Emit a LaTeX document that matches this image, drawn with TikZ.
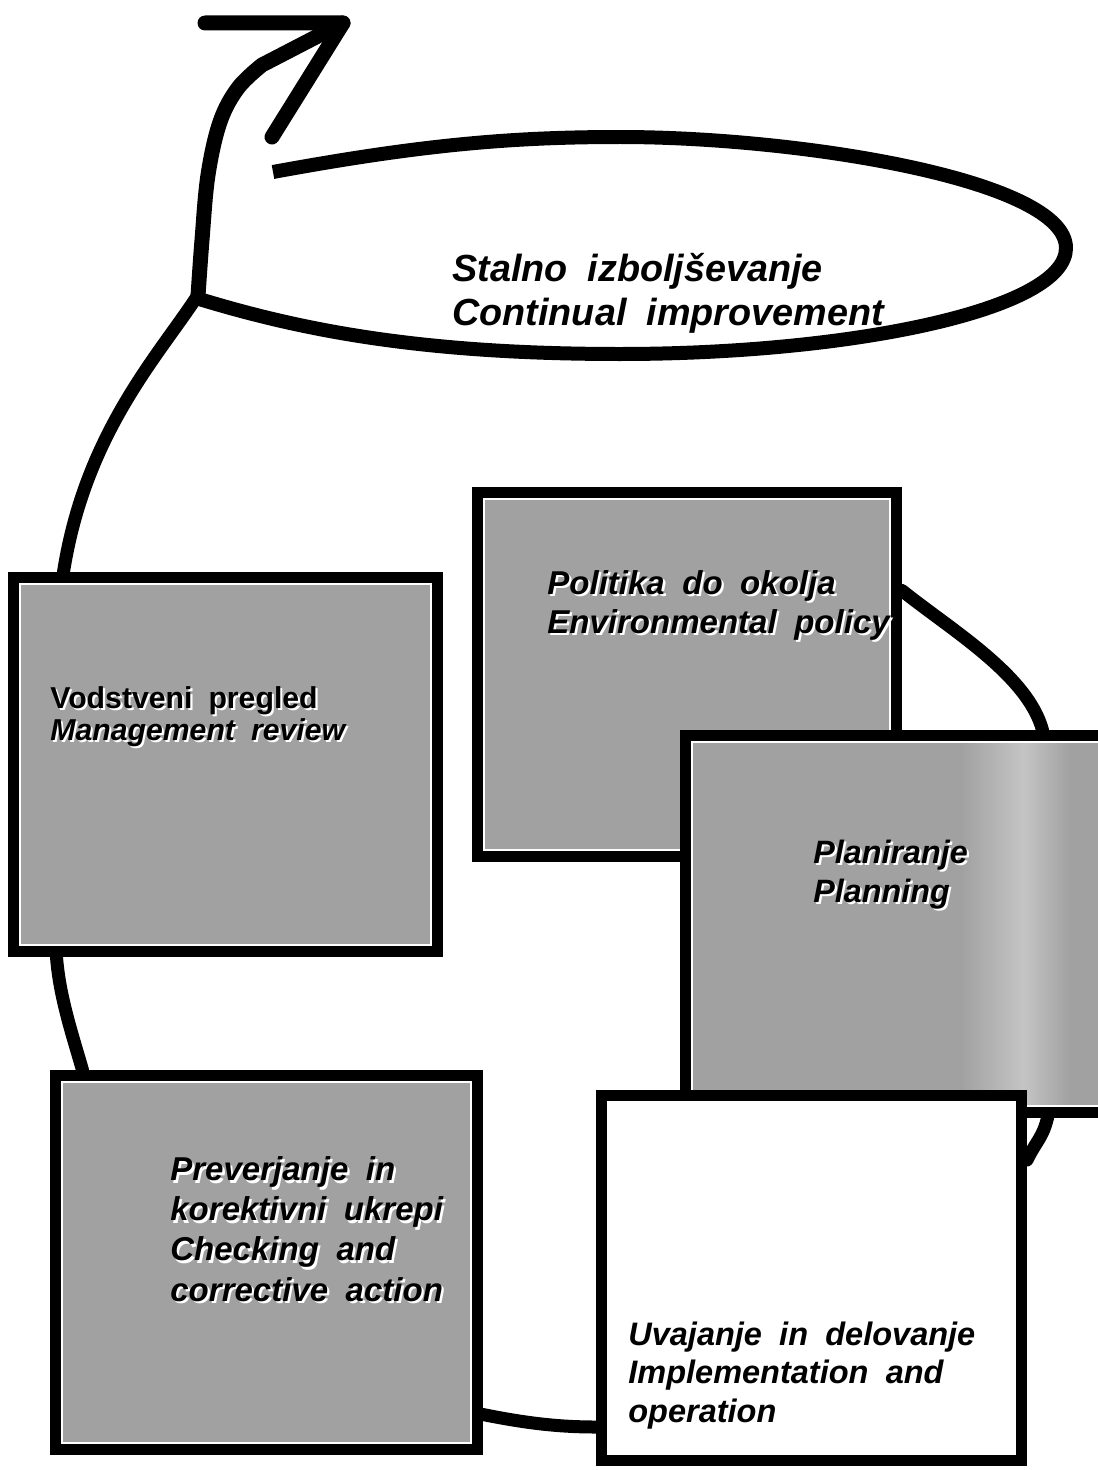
\documentclass[tikz,border=0pt]{standalone}
\usepackage{fontspec}
\setmainfont{Liberation Sans}
\usetikzlibrary{calc}
\pgfdeclarelayer{bg}
\pgfsetlayers{bg,main}
\definecolor{boxgray}{gray}{0.63}
\colorlet{bandgray}{boxgray!62!white}
\newcommand\shd[1]{\makebox[0pt][l]{\hspace{0.07em}\raisebox{-0.07em}{\textcolor{white}{#1}}}#1}
\newcommand\wsp{\spaceskip=0.53em plus 0.1em\relax}
\newcommand\lblfont[2]{\fontsize{#1}{#2}\selectfont\wsp}
\begin{document}
\begin{tikzpicture}[x=0.02cm,y=-0.02cm,
  box/.style={draw=black, line width=0.22cm, rectangle, inner sep=0pt, fill=white},
  grayfill/.style={path picture={\fill[boxgray] ($(path picture bounding box.south west)+(7.5,-7.5)$) rectangle ($(path picture bounding box.north east)+(-7.5,7.5)$);}},
  plfill/.style={path picture={
    \fill[boxgray] ($(path picture bounding box.south west)+(7.5,-7.5)$) rectangle ($(path picture bounding box.north east)+(-7.5,7.5)$);
    \shade[left color=boxgray, right color=bandgray] ($(path picture bounding box.north west)+(275,7.5)$) rectangle ($(path picture bounding box.south west)+(338,-7.5)$);
    \shade[left color=bandgray, right color=boxgray] ($(path picture bounding box.north west)+(338,7.5)$) rectangle ($(path picture bounding box.south west)+(385,-7.5)$);}},
  lbl/.style={anchor=base west, inner sep=0pt, align=left},
  loopline/.style={line width=0.26cm, line cap=round, line join=round},
  ellline/.style={line width=0.28cm, line join=round},
  stemline/.style={line width=0.3cm, line cap=round, line join=round}
]
\useasboundingbox (0,0) rectangle (1098,1470);
\begin{pgfonlayer}{bg}
\fill[white] (0,0) rectangle (1098,1470);
\end{pgfonlayer}

% boxes
\node[box, grayfill, minimum width=8.48cm, minimum height=7.48cm] (MR) at (225.5,764.5) {};
\node[box, grayfill, minimum width=8.44cm, minimum height=7.48cm] (CK) at (266.5,1262.5) {};
\node[box, grayfill, minimum width=8.38cm, minimum height=7.28cm] (EP) at (687,674.5) {};
\node[box, plfill, minimum width=8.48cm, minimum height=7.54cm] (PL) at (897.5,924) {};
\node[box, minimum width=8.4cm, minimum height=7.3cm] (UI) at (811.5,1278) {};

% texts (anchor = baseline of the last line)
\node[lbl, font=\bfseries\itshape\lblfont{21.5}{24.5}] (CIt) at (452,325) {Stalno izboljševanje\\Continual improvement};
\node[lbl, font=\bfseries\itshape\lblfont{18.8}{22.2}] (EPt) at (547,633) {\shd{Politika do okolja}\\\shd{Environmental policy}};
\node[lbl, font=\bfseries\lblfont{17.2}{18.2}] (MRt) at (50,740) {\shd{Vodstveni pregled}\\\shd{\itshape Management review}};
\node[lbl, font=\bfseries\itshape\lblfont{18.4}{22.2}] (PLt) at (813,902) {\shd{Planiranje}\\\shd{Planning}};
\node[lbl, font=\bfseries\itshape\lblfont{18.8}{22.8}] (CKt) at (170,1301) {\shd{Preverjanje in}\\\shd{korektivni ukrepi}\\\shd{Checking and}\\\shd{corrective action}};
\node[lbl, font=\bfseries\itshape\lblfont{18.5}{21.8}] (UIt) at (628,1422) {Uvajanje in delovanje\\Implementation and\\operation};

% continual improvement spiral
\coordinate (J) at (196,298);
\coordinate (tip) at (343,23);
\coordinate (E0) at (273,172);
\draw[ellline] (E0) .. controls (420,145) and (510,137) .. (620,137)
  .. controls (800,137) and (1066,180) .. (1066,248)
  .. controls (1066,310) and (850,354) .. (620,354)
  .. controls (420,354) and (300,330) .. (J);
\draw[stemline] plot[smooth, tension=0.6] coordinates {(198,296) (202,240) (208,175) (220,122) (238,88) (262,65)} -- (tip);
\draw[stemline] (205,23) -- (tip) -- (272,137);

% cycle connectors
\begin{pgfonlayer}{bg}
\draw[loopline] (J) .. controls +(-38,58) and +(21.5,-137.5) .. ($(MR.north)+(-162,0)$);
\draw[loopline] ($(MR.south)+(-169,0)$) .. controls +(3,40) and +(-10,-35) .. ($(CK.north)+(-184,0)$);
\draw[loopline] ($(CK.east)+(0,152)$) .. controls +(40,8) and +(-40,0) .. ($(UI.west)+(0,149)$);
\draw[loopline] ($(UI.east)+(0,-118)$) .. controls +(10,-20) and +(-5,20) .. ($(PL.south)+(150,0)$);
\draw[loopline] ($(PL.north)+(145,0)$) .. controls +(-15,-55) and +(50,40) .. ($(EP.east)+(0,-84)$);
\end{pgfonlayer}
\end{tikzpicture}
\end{document}
